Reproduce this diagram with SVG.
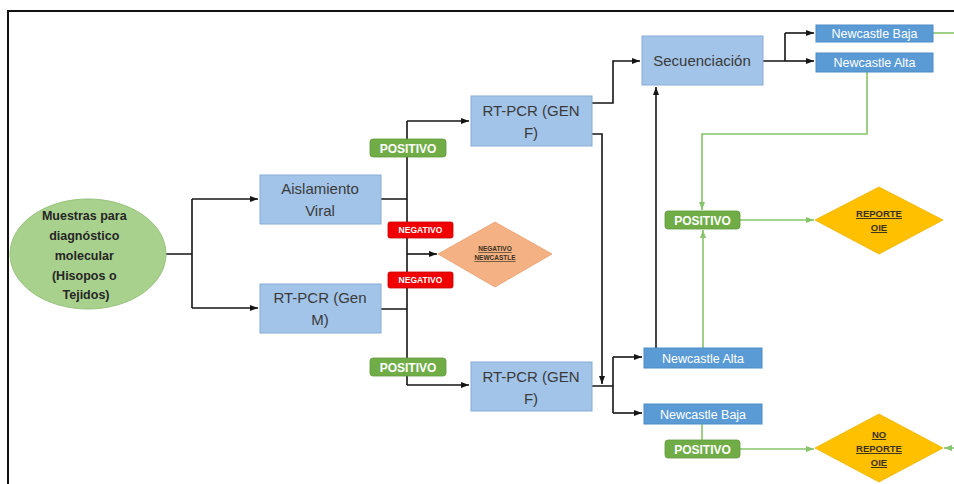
<svg xmlns="http://www.w3.org/2000/svg" width="954" height="484" viewBox="0 0 954 484">
<defs>
<style>
.box{fill:#a2c4e8;stroke:#86acd8;stroke-width:1}
.nc{fill:#5b9bd5;stroke:#4d8cc8;stroke-width:1}
.bt{font-family:"Liberation Sans",Arial,sans-serif;font-size:15px;fill:#3a3a3a;text-anchor:middle}
.nt{font-family:"Liberation Sans",Arial,sans-serif;font-size:12.5px;fill:#ffffff;text-anchor:middle}
.pos{fill:#70ad47;stroke:#5f9a3a;stroke-width:0.8}
.neg{fill:#f20000;stroke:#c00000;stroke-width:0.8}
.pt{font-family:"Liberation Sans",Arial,sans-serif;font-size:12px;font-weight:bold;fill:#ffffff;text-anchor:middle}
.ngt{font-family:"Liberation Sans",Arial,sans-serif;font-size:8.5px;font-weight:bold;fill:#ffffff;text-anchor:middle}
.dt{font-family:"Liberation Sans",Arial,sans-serif;font-weight:bold;fill:#3a3020;text-anchor:middle;text-decoration:underline}
.k{fill:none;stroke:#151515;stroke-width:1.6}
.g{fill:none;stroke:#86c56a;stroke-width:1.6}
</style>
<marker id="ak" viewBox="0 0 8 8" refX="8" refY="4" markerWidth="8" markerHeight="8" markerUnits="userSpaceOnUse" orient="auto"><path d="M0,1 L8,4 L0,7 Z" fill="#151515"/></marker>
<marker id="ag" viewBox="0 0 8 8" refX="8" refY="4" markerWidth="8" markerHeight="8" markerUnits="userSpaceOnUse" orient="auto"><path d="M0,1 L8,4 L0,7 Z" fill="#86c56a"/></marker>
</defs>
<rect width="954" height="484" fill="#ffffff"/>
<path d="M8,484 V11 H954" fill="none" stroke="#111" stroke-width="2"/>

<g id="connectors">
<path class="k" d="M166,254 H192 M192,199 V308"/>
<path class="k" d="M192,199 H258" marker-end="url(#ak)"/>
<path class="k" d="M192,308 H258" marker-end="url(#ak)"/>
<path class="k" d="M381,199 H407 M381,309 H407 M407,121 V385"/>
<path class="k" d="M407,121 H469" marker-end="url(#ak)"/>
<path class="k" d="M407,385 H469" marker-end="url(#ak)"/>
<path class="k" d="M407,254 H437" marker-end="url(#ak)"/>
<path class="k" d="M592,103 H613 V61 H640" marker-end="url(#ak)"/>
<path class="k" d="M592,134 H602 V384" marker-end="url(#ak)"/>
<path class="k" d="M592,386 H613 M613,357 V413"/>
<path class="k" d="M613,357 H642" marker-end="url(#ak)"/>
<path class="k" d="M613,413 H642" marker-end="url(#ak)"/>
<path class="k" d="M656,348 V87" marker-end="url(#ak)"/>
<path class="k" d="M763,61 H785 M785,33 V61"/>
<path class="k" d="M785,33 H814" marker-end="url(#ak)"/>
<path class="k" d="M785,61 H814" marker-end="url(#ak)"/>
<path class="g" d="M933,33 H954"/>
<path class="g" d="M867,72 V134 H702 V210" marker-end="url(#ag)"/>
<path class="g" d="M703,348 V230" marker-end="url(#ag)"/>
<path class="g" d="M740,220 H814" marker-end="url(#ag)"/>
<path class="g" d="M702,424 V440"/>
<path class="g" d="M740,449 H814" marker-end="url(#ag)"/>
<path class="g" d="M954,448 H944" marker-end="url(#ag)"/>
</g>

<g id="muestras">
<ellipse cx="88" cy="254" rx="78" ry="55" fill="#a9d18e" stroke="#98c27c" stroke-width="1"/>
<text font-family="'Liberation Sans',Arial,sans-serif" font-size="12.5" font-weight="bold" fill="#262626" text-anchor="middle">
<tspan x="86" y="220">Muestras para</tspan>
<tspan x="86" y="240">diagnóstico</tspan>
<tspan x="86" y="260">molecular</tspan>
<tspan x="86" y="280">(Hisopos o</tspan>
<tspan x="86" y="299">Tejidos)</tspan>
</text>
</g>

<g id="aislamiento">
<rect class="box" x="260" y="175" width="121" height="49"/>
<text class="bt"><tspan x="320" y="194">Aislamiento</tspan><tspan x="320" y="216">Viral</tspan></text>
</g>

<g id="rtpcr-m">
<rect class="box" x="260" y="284" width="121" height="49"/>
<text class="bt"><tspan x="320" y="303">RT-PCR (Gen</tspan><tspan x="320" y="325">M)</tspan></text>
</g>

<g id="pos1">
<rect class="pos" x="370" y="139" width="76" height="18" rx="3"/>
<text class="pt" x="408" y="152.5">POSITIVO</text>
</g>
<g id="neg1">
<rect class="neg" x="388" y="222" width="65" height="16" rx="2"/>
<text class="ngt" x="420.5" y="233">NEGATIVO</text>
</g>
<g id="neg2">
<rect class="neg" x="388" y="272" width="65" height="16" rx="2"/>
<text class="ngt" x="420.5" y="283">NEGATIVO</text>
</g>
<g id="pos2">
<rect class="pos" x="370" y="358" width="76" height="18" rx="3"/>
<text class="pt" x="408" y="371.5">POSITIVO</text>
</g>

<g id="negativo-newcastle">
<polygon points="438,254 495,222 552,254 495,287" fill="#f4b183" stroke="#e8a070" stroke-width="0.8"/>
<text class="dt" font-size="6.5"><tspan x="495" y="251">NEGATIVO</tspan><tspan x="495" y="260">NEWCASTLE</tspan></text>
</g>

<g id="rtpcr-f1">
<rect class="box" x="471" y="96" width="121" height="50"/>
<text class="bt"><tspan x="531" y="116">RT-PCR (GEN</tspan><tspan x="531" y="138">F)</tspan></text>
</g>

<g id="rtpcr-f2">
<rect class="box" x="471" y="362" width="121" height="49"/>
<text class="bt"><tspan x="531" y="382">RT-PCR (GEN</tspan><tspan x="531" y="404">F)</tspan></text>
</g>

<g id="secuenciacion">
<rect class="box" x="642" y="36" width="121" height="49"/>
<text class="bt" x="702" y="66" font-size="15.5">Secuenciación</text>
</g>

<g id="nc-baja-top">
<rect class="nc" x="816" y="25" width="117" height="17"/>
<text class="nt" x="874.5" y="38">Newcastle Baja</text>
</g>
<g id="nc-alta-top">
<rect class="nc" x="816" y="53" width="117" height="19"/>
<text class="nt" x="874.5" y="67">Newcastle Alta</text>
</g>

<g id="nc-alta">
<rect class="nc" x="644" y="348" width="118" height="20"/>
<text class="nt" x="703" y="362.5">Newcastle Alta</text>
</g>
<g id="nc-baja">
<rect class="nc" x="644" y="404" width="118" height="20"/>
<text class="nt" x="703" y="418.5">Newcastle Baja</text>
</g>

<g id="pos3">
<rect class="pos" x="665" y="211" width="75" height="18" rx="3"/>
<text class="pt" x="702.5" y="224.5">POSITIVO</text>
</g>
<g id="pos4">
<rect class="pos" x="665" y="440" width="75" height="18" rx="3"/>
<text class="pt" x="702.5" y="453.5">POSITIVO</text>
</g>

<g id="reporte-oie">
<polygon points="815,220 879,187 943,220 879,254" fill="#ffc000" stroke="#f0b400" stroke-width="0.8"/>
<text class="dt" font-size="9.5"><tspan x="879" y="217">REPORTE</tspan><tspan x="879" y="231">OIE</tspan></text>
</g>

<g id="no-reporte-oie">
<polygon points="815,448 879,414 943,448 879,482" fill="#ffc000" stroke="#f0b400" stroke-width="0.8"/>
<text class="dt" font-size="9.5"><tspan x="879" y="438">NO</tspan><tspan x="879" y="452">REPORTE</tspan><tspan x="879" y="466">OIE</tspan></text>
</g>
</svg>
